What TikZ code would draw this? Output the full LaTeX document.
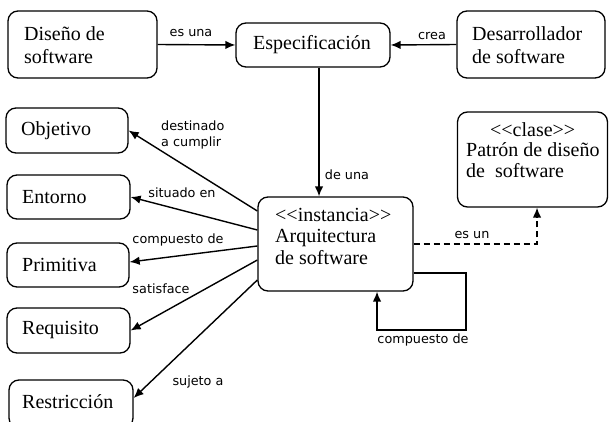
\documentclass[tikz,border=0pt]{standalone}
\usepackage{fontspec}
\setmainfont{Liberation Serif}
\newfontfamily\labfont{DejaVu Sans}
\usetikzlibrary{arrows.meta}
\tikzset{
  box/.style={draw, line width=1.3pt, rounded corners=10pt, inner sep=0pt},
  txt/.style={font=\fontsize{20}{22.5}\selectfont, align=left, inner sep=0pt},
  lab/.style={font=\labfont\fontsize{12.8}{16}\selectfont, inner sep=0pt, align=left},
  conn/.style={line width=1.4pt, -{Latex[length=10pt,width=8.5pt]}},
}
\begin{document}
\begin{tikzpicture}[x=1pt,y=-1pt]
\useasboundingbox (0,0) rectangle (609,422);
% boxes
\node[box, minimum width=149pt, minimum height=67pt] (dis) at (82.5,44.5) {};
\node[box, minimum width=154pt, minimum height=44pt] (esp) at (313,45) {};
\node[box, minimum width=148pt, minimum height=67pt] (des) at (531,44.5) {};
\node[box, minimum width=122pt, minimum height=45pt] (obj) at (67,130.5) {};
\node[box, minimum width=123pt, minimum height=44pt] (ent) at (68.5,197) {};
\node[box, minimum width=122pt, minimum height=44pt] (pri) at (68,265) {};
\node[box, minimum width=123pt, minimum height=45pt] (req) at (68.5,330.5) {};
\node[box, minimum width=124pt, minimum height=48pt] (res) at (71,404) {};
\node[box, minimum width=155pt, minimum height=94pt] (arq) at (335.5,244) {};
\node[box, minimum width=150pt, minimum height=95pt] (pat) at (532.5,159.5) {};
% texts
\node[txt, anchor=west] (tdis) at (24,45) {Diseño de\\software};
\node[txt] (tesp) at (312,45) {Especificación};
\node[txt, anchor=west] (tdes) at (472,45) {Desarrollador\\de software};
\node[txt, anchor=west] (tobj) at (21,131) {Objetivo};
\node[txt, anchor=west] (tent) at (22,197) {Entorno};
\node[txt, anchor=west] (tpri) at (22,265) {Primitiva};
\node[txt, anchor=west] (treq) at (22,330) {Requisito};
\node[txt, anchor=west] (tres) at (22,402) {Restricción};
\node[txt, anchor=west, font=\fontsize{20}{21.5}\selectfont] (tarq) at (275,236) {<\kern0pt<instancia>\kern0pt>\\Arquitectura\\de software};
\node[txt, anchor=west, font=\fontsize{20}{20.5}\selectfont] (tpat) at (466,150) {\makebox[133pt][c]{<\kern0pt<clase>\kern0pt>}\\Patrón de diseño\\de~~software};
% connectors
\draw[conn] (dis.east) -- (esp.west);
\draw[conn] (des.west) -- (esp.east);
\draw[conn] ([xshift=6pt]esp.south) -- ([xshift=6pt]esp.south |- arq.north);
\draw[conn] ([yshift=33pt]arq.west) -- (obj.east);
\draw[conn] ([yshift=14pt]arq.west) -- (ent.east);
\draw[conn] ([yshift=-2pt]arq.west) -- ([yshift=3pt]pri.east);
\draw[conn] ([yshift=-16pt]arq.west) -- (req.east);
\draw[conn] ([yshift=-36pt]arq.west) -- ([yshift=6pt]res.east);
\draw[conn, dashed, dash pattern=on 6pt off 4pt] (arq.east) -| ([xshift=4.5pt]pat.south);
\coordinate (loopc) at (466,330);
\draw[conn] ([yshift=-29pt]arq.east) -| (loopc) -| ([xshift=41.5pt]arq.south);
% labels
\node[lab] (les) at (191,33) {es una};
\node[lab] (lcrea) at (432,36) {crea};
\node[lab] (lde) at (347,175) {de una};
\node[lab, anchor=west] (ldest) at (161,135) {destinado\\a cumplir};
\node[lab] (lsit) at (182,193) {situado en};
\node[lab] (lcomp) at (178,240) {compuesto de};
\node[lab] (lsat) at (161,289) {satisface};
\node[lab] (lsuj) at (198,382) {sujeto a};
\node[lab] (lesun) at (472,235) {es un};
\node[lab] (lcomp2) at (423,340) {compuesto de};
\end{tikzpicture}
\end{document}
